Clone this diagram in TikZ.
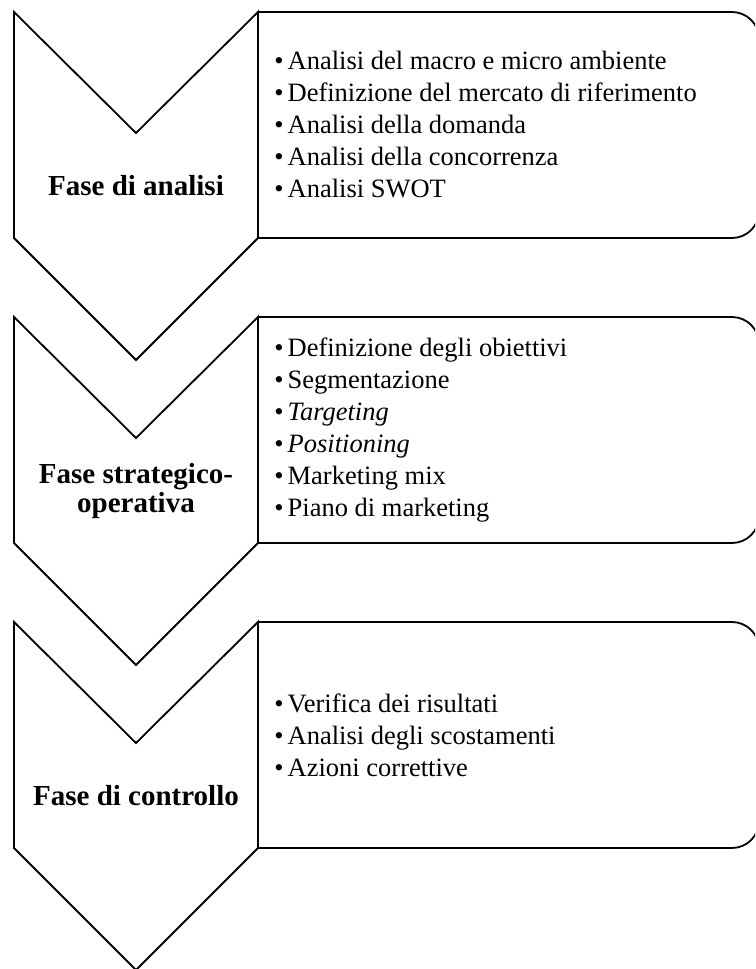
\documentclass[tikz,border=0pt]{standalone}
\usepackage{fontspec}
\setmainfont{Liberation Serif}
\usepackage{tikz}
\tikzset{
  fline/.style={draw=black, line width=0.9pt, line join=miter},
  flabel/.style={font=\fontsize{14.5}{14.5}\selectfont\bfseries, align=center, inner sep=0pt},
  flist/.style={font=\fontsize{13.25}{16}\selectfont, align=left, anchor=west, inner sep=0pt},
}
\newcommand{\fb}{\textbullet\hspace{2pt}}
\newcommand{\fchevron}[3]{%
  % chevron with its top at y=#1, label in the middle of its body
  \draw[fline] (14,#1) -- (136,{#1+121}) -- (258,#1) -- (258,{#1+226})
    -- (136,{#1+348}) -- (14,{#1+226}) -- cycle;
  \node[flabel] (lab#2) at (136,{#1+174}) {#3};
}
\newcommand{\flistbox}[3]{%
  % open box, left side is the chevron edge, right side runs off the page
  \draw[fline, rounded corners=13.5pt]
    (258,#1) -- (759,#1) -- (759,{#1+226}) -- (258,{#1+226});
  \node[flist] (list#2) at (274,{#1+113}) {#3};
}

\begin{document}
\begin{tikzpicture}[x=0.5pt, y=-0.5pt]
  \clip (0,0) rectangle (755,969);
  \fchevron{12}{ana}{Fase di analisi}
  \flistbox{12}{ana}{\fb Analisi del macro e micro ambiente\\
    \fb Definizione del mercato di riferimento\\
    \fb Analisi della domanda\\
    \fb Analisi della concorrenza\\
    \fb Analisi SWOT}
  \fchevron{317}{str}{Fase strategico-\\operativa}
  \flistbox{317}{str}{\fb Definizione degli obiettivi\\
    \fb Segmentazione\\
    \fb\textit{Targeting}\\
    \fb\textit{Positioning}\\
    \fb Marketing mix\\
    \fb Piano di marketing}
  \fchevron{622}{con}{Fase di controllo}
  \flistbox{622}{con}{\fb Verifica dei risultati\\
    \fb Analisi degli scostamenti\\
    \fb Azioni correttive}
\end{tikzpicture}
\end{document}
